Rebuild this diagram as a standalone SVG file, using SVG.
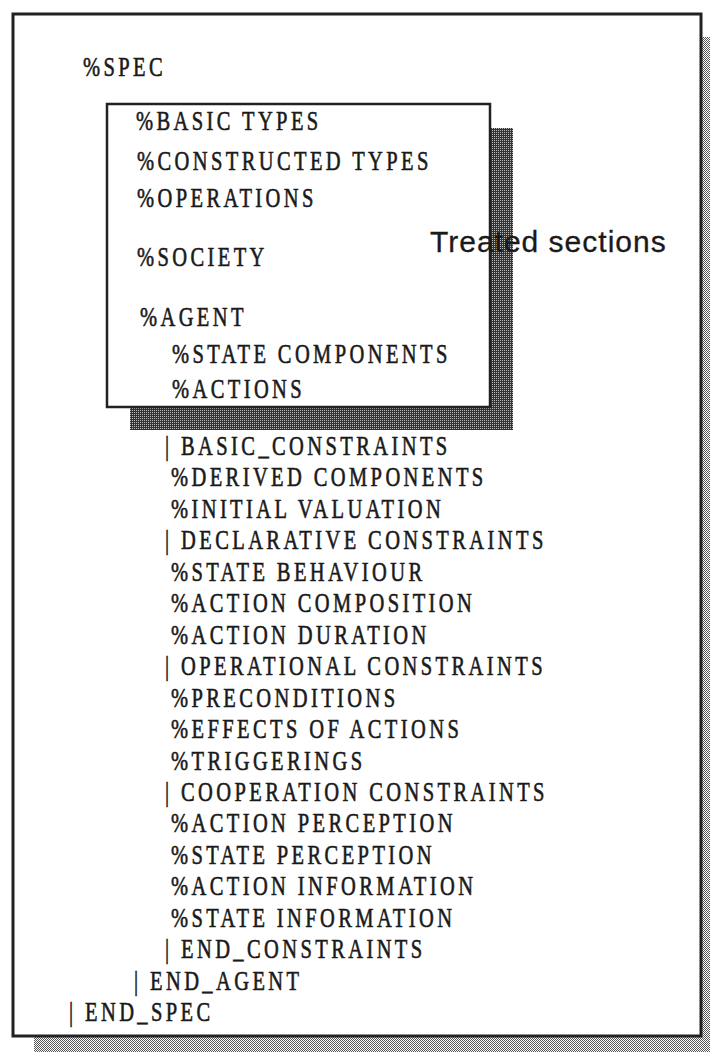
<svg xmlns="http://www.w3.org/2000/svg" width="710" height="1052" viewBox="0 0 710 1052">
  <defs>
    <!-- fine dither for the page shadow -->
    <pattern id="ditherLight" width="2" height="2" patternUnits="userSpaceOnUse">
      <rect width="2" height="2" fill="#ffffff"/>
      <rect x="0" y="0" width="1" height="1" fill="#555"/>
      <rect x="1" y="1" width="1" height="1" fill="#555"/>
    </pattern>
    <!-- darker dither for the highlighted-box shadow -->
    <pattern id="ditherDark" width="2" height="2" patternUnits="userSpaceOnUse">
      <rect width="2" height="2" fill="#333"/>
      <rect x="0" y="0" width="1" height="1" fill="#bbb"/>
    </pattern>
  </defs>
  <style>
    .frame { fill: #ffffff; stroke: #222; stroke-width: 3; }
    .box { fill: #ffffff; stroke: #222; stroke-width: 2.5; }
    .kw { font-family: "Liberation Serif", "Times New Roman", serif; font-size: 20.5px; letter-spacing: 3.4px; fill: #1a1a1a; stroke: #1a1a1a; stroke-width: 0.45px; }
    .note { font-family: "Liberation Sans", Arial, sans-serif; font-size: 30px; letter-spacing: 1px; fill: #1a1a1a; stroke: #1a1a1a; stroke-width: 0.3px; }
  </style>

  <rect width="710" height="1052" fill="#ffffff"/>

  <!-- page with drop shadow -->
  <g id="page">
    <rect x="34" y="37" width="690" height="1030" fill="url(#ditherLight)"/>
    <rect class="frame" x="13" y="14" width="688" height="1022"/>
  </g>

  <!-- highlighted group of sections with drop shadow -->
  <g id="treated-box">
    <rect x="130" y="128" width="383" height="302" fill="url(#ditherDark)"/>
    <rect class="box" x="107" y="104" width="383" height="303"/>
  </g>

  <g id="label">
    <text class="note" x="430" y="252">Treated sections</text>
  </g>

  <g id="spec-lines">
    <text class="kw" transform="translate(83,76) scale(1,1.35)">%SPEC</text>
    <text class="kw" transform="translate(136,130) scale(1,1.35)">%BASIC TYPES</text>
    <text class="kw" transform="translate(137,170) scale(1,1.35)">%CONSTRUCTED TYPES</text>
    <text class="kw" transform="translate(137,207) scale(1,1.35)">%OPERATIONS</text>
    <text class="kw" transform="translate(137,266) scale(1,1.35)">%SOCIETY</text>
    <text class="kw" transform="translate(140,326) scale(1,1.35)">%AGENT</text>
    <text class="kw" transform="translate(172,363) scale(1,1.35)">%STATE COMPONENTS</text>
    <text class="kw" transform="translate(172,398) scale(1,1.35)">%ACTIONS</text>
    <text class="kw" transform="translate(165,455) scale(1,1.35)">| BASIC_CONSTRAINTS</text>
    <text class="kw" transform="translate(171,486.4) scale(1,1.35)">%DERIVED COMPONENTS</text>
    <text class="kw" transform="translate(171,517.9) scale(1,1.35)">%INITIAL VALUATION</text>
    <text class="kw" transform="translate(165,549.3) scale(1,1.35)">| DECLARATIVE CONSTRAINTS</text>
    <text class="kw" transform="translate(171,580.8) scale(1,1.35)">%STATE BEHAVIOUR</text>
    <text class="kw" transform="translate(171,612.2) scale(1,1.35)">%ACTION COMPOSITION</text>
    <text class="kw" transform="translate(171,643.7) scale(1,1.35)">%ACTION DURATION</text>
    <text class="kw" transform="translate(165,675.1) scale(1,1.35)">| OPERATIONAL CONSTRAINTS</text>
    <text class="kw" transform="translate(171,706.6) scale(1,1.35)">%PRECONDITIONS</text>
    <text class="kw" transform="translate(171,738) scale(1,1.35)">%EFFECTS OF ACTIONS</text>
    <text class="kw" transform="translate(171,769.5) scale(1,1.35)">%TRIGGERINGS</text>
    <text class="kw" transform="translate(165,800.9) scale(1,1.35)">| COOPERATION CONSTRAINTS</text>
    <text class="kw" transform="translate(171,832.4) scale(1,1.35)">%ACTION PERCEPTION</text>
    <text class="kw" transform="translate(171,863.8) scale(1,1.35)">%STATE PERCEPTION</text>
    <text class="kw" transform="translate(171,895.3) scale(1,1.35)">%ACTION INFORMATION</text>
    <text class="kw" transform="translate(171,926.7) scale(1,1.35)">%STATE INFORMATION</text>
    <text class="kw" transform="translate(165,958.2) scale(1,1.35)">| END_CONSTRAINTS</text>
    <text class="kw" transform="translate(134,989.6) scale(1,1.35)">| END_AGENT</text>
    <text class="kw" transform="translate(69,1021.1) scale(1,1.35)">| END_SPEC</text>
  </g>
</svg>
